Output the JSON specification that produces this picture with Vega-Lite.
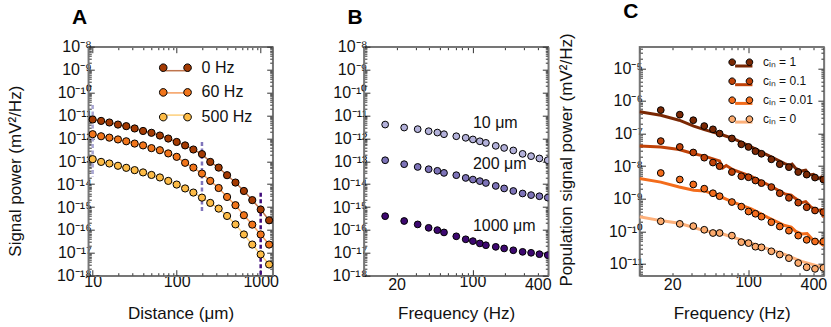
{
  "$schema": "https://vega.github.io/schema/vega-lite/v6.json",
  "background": "white",
  "autosize": {"type": "none"},
  "padding": {"left": 88.3, "top": 46.7, "right": 742.7, "bottom": 280.3},
  "spacing": 90.6,
  "bounds": "flush",
  "config": {
    "view": {"stroke": "#777", "strokeWidth": 1.5},
    "axis": {"domain": true, "domainColor": "#777", "domainWidth": 1.5, "grid": false, "tickColor": "#333", "tickWidth": 1, "labelFont": "Liberation Sans", "labelFontSize": 16, "labelColor": "#111", "titleFont": "Liberation Sans", "titleFontSize": 17, "titleFontWeight": "normal", "titleColor": "#111", "labelOverlap": false, "labelFlush": false, "labelBound": false},
    "legend": {"labelFont": "Liberation Sans", "labelColor": "#111"}
  },
  "resolve": {"scale": {"fill": "independent", "stroke": "independent", "color": "independent"}, "legend": {"fill": "independent", "stroke": "independent", "color": "independent"}},
  "datasets": {
    "powerDistance": [
      {"distance": 10, "power": 6.61e-12, "series": "0 Hz"}, {"distance": 12.6, "power": 5.75e-12, "series": "0 Hz"}, {"distance": 15.8, "power": 4.90e-12, "series": "0 Hz"}, {"distance": 20, "power": 3.98e-12, "series": "0 Hz"}, {"distance": 25.1, "power": 3.39e-12, "series": "0 Hz"}, {"distance": 31.6, "power": 2.69e-12, "series": "0 Hz"}, {"distance": 39.8, "power": 2.09e-12, "series": "0 Hz"}, {"distance": 50.1, "power": 1.74e-12, "series": "0 Hz"}, {"distance": 63.1, "power": 1.32e-12, "series": "0 Hz"}, {"distance": 79.4, "power": 9.77e-13, "series": "0 Hz"}, {"distance": 100, "power": 6.92e-13, "series": "0 Hz"}, {"distance": 126, "power": 4.90e-13, "series": "0 Hz"}, {"distance": 158, "power": 3.24e-13, "series": "0 Hz"}, {"distance": 200, "power": 2.04e-13, "series": "0 Hz"}, {"distance": 251, "power": 9.33e-14, "series": "0 Hz"}, {"distance": 316, "power": 5.25e-14, "series": "0 Hz"}, {"distance": 398, "power": 2.45e-14, "series": "0 Hz"}, {"distance": 501, "power": 1.17e-14, "series": "0 Hz"}, {"distance": 631, "power": 5.01e-15, "series": "0 Hz"}, {"distance": 794, "power": 2.00e-15, "series": "0 Hz"}, {"distance": 1000, "power": 7.76e-16, "series": "0 Hz"}, {"distance": 1259, "power": 2.63e-16, "series": "0 Hz"},
      {"distance": 10, "power": 1.51e-12, "series": "60 Hz"}, {"distance": 12.6, "power": 1.23e-12, "series": "60 Hz"}, {"distance": 15.8, "power": 1.07e-12, "series": "60 Hz"}, {"distance": 20, "power": 8.91e-13, "series": "60 Hz"}, {"distance": 25.1, "power": 7.41e-13, "series": "60 Hz"}, {"distance": 31.6, "power": 5.89e-13, "series": "60 Hz"}, {"distance": 39.8, "power": 4.90e-13, "series": "60 Hz"}, {"distance": 50.1, "power": 3.72e-13, "series": "60 Hz"}, {"distance": 63.1, "power": 3.02e-13, "series": "60 Hz"}, {"distance": 79.4, "power": 2.19e-13, "series": "60 Hz"}, {"distance": 100, "power": 1.55e-13, "series": "60 Hz"}, {"distance": 126, "power": 8.51e-14, "series": "60 Hz"}, {"distance": 158, "power": 5.25e-14, "series": "60 Hz"}, {"distance": 200, "power": 2.88e-14, "series": "60 Hz"}, {"distance": 251, "power": 1.38e-14, "series": "60 Hz"}, {"distance": 316, "power": 6.76e-15, "series": "60 Hz"}, {"distance": 398, "power": 2.75e-15, "series": "60 Hz"}, {"distance": 501, "power": 1.20e-15, "series": "60 Hz"}, {"distance": 631, "power": 4.37e-16, "series": "60 Hz"}, {"distance": 794, "power": 1.70e-16, "series": "60 Hz"}, {"distance": 1000, "power": 6.31e-17, "series": "60 Hz"}, {"distance": 1259, "power": 2.29e-17, "series": "60 Hz"},
      {"distance": 10, "power": 1.23e-13, "series": "500 Hz"}, {"distance": 12.6, "power": 9.33e-14, "series": "500 Hz"}, {"distance": 15.8, "power": 7.94e-14, "series": "500 Hz"}, {"distance": 20, "power": 6.31e-14, "series": "500 Hz"}, {"distance": 25.1, "power": 5.13e-14, "series": "500 Hz"}, {"distance": 31.6, "power": 4.07e-14, "series": "500 Hz"}, {"distance": 39.8, "power": 3.24e-14, "series": "500 Hz"}, {"distance": 50.1, "power": 2.51e-14, "series": "500 Hz"}, {"distance": 63.1, "power": 1.95e-14, "series": "500 Hz"}, {"distance": 79.4, "power": 1.38e-14, "series": "500 Hz"}, {"distance": 100, "power": 9.55e-15, "series": "500 Hz"}, {"distance": 126, "power": 6.46e-15, "series": "500 Hz"}, {"distance": 158, "power": 4.27e-15, "series": "500 Hz"}, {"distance": 200, "power": 2.57e-15, "series": "500 Hz"}, {"distance": 251, "power": 1.51e-15, "series": "500 Hz"}, {"distance": 316, "power": 8.51e-16, "series": "500 Hz"}, {"distance": 398, "power": 4.07e-16, "series": "500 Hz"}, {"distance": 501, "power": 1.74e-16, "series": "500 Hz"}, {"distance": 631, "power": 6.31e-17, "series": "500 Hz"}, {"distance": 794, "power": 2.29e-17, "series": "500 Hz"}, {"distance": 1000, "power": 8.51e-18, "series": "500 Hz"}, {"distance": 1259, "power": 3.09e-18, "series": "500 Hz"}
    ],
    "distRules": [
      {"distance": 10, "upper": 2.82e-11, "lower": 2.04e-14, "site": "10 μm"},
      {"distance": 200, "upper": 6.92e-13, "lower": 5.25e-16, "site": "200 μm"},
      {"distance": 1000, "upper": 4.17e-15, "lower": 1e-18, "site": "1000 μm"}
    ],
    "powerFreq": [
      {"freq": 15.7, "power": 3.98e-12, "site": "10 μm"}, {"freq": 23.5, "power": 2.95e-12, "site": "10 μm"}, {"freq": 31.3, "power": 2.51e-12, "site": "10 μm"}, {"freq": 39.5, "power": 2.04e-12, "site": "10 μm"}, {"freq": 47.5, "power": 1.78e-12, "site": "10 μm"}, {"freq": 54.7, "power": 1.51e-12, "site": "10 μm"}, {"freq": 71, "power": 1.23e-12, "site": "10 μm"}, {"freq": 86.7, "power": 1.05e-12, "site": "10 μm"}, {"freq": 101, "power": 8.91e-13, "site": "10 μm"}, {"freq": 117, "power": 7.41e-13, "site": "10 μm"}, {"freq": 133, "power": 6.31e-13, "site": "10 μm"}, {"freq": 164, "power": 4.68e-13, "site": "10 μm"}, {"freq": 196, "power": 3.80e-13, "site": "10 μm"}, {"freq": 238, "power": 2.95e-13, "site": "10 μm"}, {"freq": 290, "power": 2.09e-13, "site": "10 μm"}, {"freq": 347, "power": 1.66e-13, "site": "10 μm"}, {"freq": 414, "power": 1.32e-13, "site": "10 μm"}, {"freq": 494, "power": 1.10e-13, "site": "10 μm"},
      {"freq": 15.7, "power": 1.10e-13, "site": "200 μm"}, {"freq": 23.5, "power": 7.41e-14, "site": "200 μm"}, {"freq": 31.3, "power": 5.62e-14, "site": "200 μm"}, {"freq": 39.5, "power": 4.47e-14, "site": "200 μm"}, {"freq": 47.5, "power": 3.80e-14, "site": "200 μm"}, {"freq": 54.7, "power": 3.09e-14, "site": "200 μm"}, {"freq": 71, "power": 2.45e-14, "site": "200 μm"}, {"freq": 86.7, "power": 1.86e-14, "site": "200 μm"}, {"freq": 101, "power": 1.58e-14, "site": "200 μm"}, {"freq": 117, "power": 1.35e-14, "site": "200 μm"}, {"freq": 133, "power": 1.12e-14, "site": "200 μm"}, {"freq": 164, "power": 8.32e-15, "site": "200 μm"}, {"freq": 196, "power": 6.46e-15, "site": "200 μm"}, {"freq": 238, "power": 5.01e-15, "site": "200 μm"}, {"freq": 290, "power": 3.89e-15, "site": "200 μm"}, {"freq": 347, "power": 3.31e-15, "site": "200 μm"}, {"freq": 414, "power": 2.95e-15, "site": "200 μm"}, {"freq": 494, "power": 2.57e-15, "site": "200 μm"},
      {"freq": 15.7, "power": 3.98e-16, "site": "1000 μm"}, {"freq": 23.5, "power": 2.45e-16, "site": "1000 μm"}, {"freq": 31.3, "power": 1.74e-16, "site": "1000 μm"}, {"freq": 39.5, "power": 1.23e-16, "site": "1000 μm"}, {"freq": 47.5, "power": 9.77e-17, "site": "1000 μm"}, {"freq": 54.7, "power": 7.76e-17, "site": "1000 μm"}, {"freq": 71, "power": 5.25e-17, "site": "1000 μm"}, {"freq": 86.7, "power": 3.89e-17, "site": "1000 μm"}, {"freq": 101, "power": 3.24e-17, "site": "1000 μm"}, {"freq": 117, "power": 2.57e-17, "site": "1000 μm"}, {"freq": 133, "power": 2.14e-17, "site": "1000 μm"}, {"freq": 164, "power": 1.82e-17, "site": "1000 μm"}, {"freq": 196, "power": 1.55e-17, "site": "1000 μm"}, {"freq": 238, "power": 1.29e-17, "site": "1000 μm"}, {"freq": 290, "power": 1.10e-17, "site": "1000 μm"}, {"freq": 347, "power": 1.00e-17, "site": "1000 μm"}, {"freq": 414, "power": 8.71e-18, "site": "1000 μm"}, {"freq": 494, "power": 7.94e-18, "site": "1000 μm"}
    ],
    "freqLabels": [
      {"freq": 101, "power": 4.68e-12, "label": "10 μm"},
      {"freq": 101, "power": 7.41e-14, "label": "200 μm"},
      {"freq": 101, "power": 1.51e-16, "label": "1000 μm"}
    ],
    "popPoints": [
      {"freq": 15.7, "power": 5.25e-7, "c": "1"}, {"freq": 23.5, "power": 3.80e-7, "c": "1"}, {"freq": 31.3, "power": 2.57e-7, "c": "1"}, {"freq": 39.5, "power": 1.70e-7, "c": "1"}, {"freq": 47.5, "power": 1.35e-7, "c": "1"}, {"freq": 54.7, "power": 1.00e-7, "c": "1"}, {"freq": 71, "power": 7.08e-8, "c": "1"}, {"freq": 86.7, "power": 4.68e-8, "c": "1"}, {"freq": 101, "power": 3.89e-8, "c": "1"}, {"freq": 117, "power": 2.88e-8, "c": "1"}, {"freq": 133, "power": 2.40e-8, "c": "1"}, {"freq": 164, "power": 1.62e-8, "c": "1"}, {"freq": 196, "power": 1.15e-8, "c": "1"}, {"freq": 238, "power": 9.33e-9, "c": "1"}, {"freq": 290, "power": 6.61e-9, "c": "1"}, {"freq": 347, "power": 5.50e-9, "c": "1"}, {"freq": 414, "power": 4.47e-9, "c": "1"}, {"freq": 494, "power": 3.89e-9, "c": "1"},
      {"freq": 15.7, "power": 5.89e-8, "c": "0.1"}, {"freq": 23.5, "power": 3.89e-8, "c": "0.1"}, {"freq": 31.3, "power": 2.63e-8, "c": "0.1"}, {"freq": 39.5, "power": 1.82e-8, "c": "0.1"}, {"freq": 47.5, "power": 1.29e-8, "c": "0.1"}, {"freq": 54.7, "power": 1.00e-8, "c": "0.1"}, {"freq": 71, "power": 6.61e-9, "c": "0.1"}, {"freq": 86.7, "power": 4.90e-9, "c": "0.1"}, {"freq": 101, "power": 4.57e-9, "c": "0.1"}, {"freq": 117, "power": 3.63e-9, "c": "0.1"}, {"freq": 133, "power": 3.02e-9, "c": "0.1"}, {"freq": 164, "power": 2.29e-9, "c": "0.1"}, {"freq": 196, "power": 1.48e-9, "c": "0.1"}, {"freq": 238, "power": 1.07e-9, "c": "0.1"}, {"freq": 290, "power": 7.59e-10, "c": "0.1"}, {"freq": 347, "power": 5.50e-10, "c": "0.1"}, {"freq": 414, "power": 4.37e-10, "c": "0.1"}, {"freq": 494, "power": 3.89e-10, "c": "0.1"},
      {"freq": 15.7, "power": 6.17e-9, "c": "0.01"}, {"freq": 23.5, "power": 3.89e-9, "c": "0.01"}, {"freq": 31.3, "power": 2.75e-9, "c": "0.01"}, {"freq": 39.5, "power": 2.04e-9, "c": "0.01"}, {"freq": 47.5, "power": 1.48e-9, "c": "0.01"}, {"freq": 54.7, "power": 1.20e-9, "c": "0.01"}, {"freq": 71, "power": 7.94e-10, "c": "0.01"}, {"freq": 86.7, "power": 5.75e-10, "c": "0.01"}, {"freq": 101, "power": 4.07e-10, "c": "0.01"}, {"freq": 117, "power": 3.47e-10, "c": "0.01"}, {"freq": 133, "power": 2.82e-10, "c": "0.01"}, {"freq": 164, "power": 1.91e-10, "c": "0.01"}, {"freq": 196, "power": 1.41e-10, "c": "0.01"}, {"freq": 238, "power": 1.05e-10, "c": "0.01"}, {"freq": 290, "power": 7.41e-11, "c": "0.01"}, {"freq": 347, "power": 5.50e-11, "c": "0.01"}, {"freq": 414, "power": 4.90e-11, "c": "0.01"}, {"freq": 494, "power": 4.90e-11, "c": "0.01"},
      {"freq": 15.7, "power": 2.04e-10, "c": "0"}, {"freq": 23.5, "power": 1.70e-10, "c": "0"}, {"freq": 31.3, "power": 1.45e-10, "c": "0"}, {"freq": 39.5, "power": 1.12e-10, "c": "0"}, {"freq": 47.5, "power": 8.91e-11, "c": "0"}, {"freq": 54.7, "power": 8.91e-11, "c": "0"}, {"freq": 71, "power": 7.41e-11, "c": "0"}, {"freq": 86.7, "power": 4.68e-11, "c": "0"}, {"freq": 101, "power": 4.37e-11, "c": "0"}, {"freq": 117, "power": 3.39e-11, "c": "0"}, {"freq": 133, "power": 3.24e-11, "c": "0"}, {"freq": 164, "power": 2.45e-11, "c": "0"}, {"freq": 196, "power": 1.95e-11, "c": "0"}, {"freq": 238, "power": 1.51e-11, "c": "0"}, {"freq": 290, "power": 1.07e-11, "c": "0"}, {"freq": 347, "power": 7.94e-12, "c": "0"}, {"freq": 414, "power": 7.08e-12, "c": "0"}, {"freq": 494, "power": 7.59e-12, "c": "0"}
    ],
    "popLines": [
      {"freq": 10, "power": 4.68e-7, "c": "1"}, {"freq": 15.7, "power": 3.63e-7, "c": "1"}, {"freq": 23.2, "power": 2.57e-7, "c": "1"}, {"freq": 31.6, "power": 1.70e-7, "c": "1"}, {"freq": 39.6, "power": 1.32e-7, "c": "1"}, {"freq": 55.7, "power": 9.55e-8, "c": "1"}, {"freq": 72.6, "power": 7.08e-8, "c": "1"}, {"freq": 107, "power": 3.89e-8, "c": "1"}, {"freq": 153, "power": 2.14e-8, "c": "1"}, {"freq": 218, "power": 1.20e-8, "c": "1"}, {"freq": 240, "power": 1.05e-8, "c": "1"}, {"freq": 255, "power": 1.15e-8, "c": "1"}, {"freq": 275, "power": 8.5e-9, "c": "1"}, {"freq": 311, "power": 7.08e-9, "c": "1"}, {"freq": 340, "power": 7.6e-9, "c": "1"}, {"freq": 370, "power": 5.4e-9, "c": "1"}, {"freq": 400, "power": 5.6e-9, "c": "1"}, {"freq": 445, "power": 4.17e-9, "c": "1"}, {"freq": 470, "power": 4.6e-9, "c": "1"}, {"freq": 500, "power": 3.24e-9, "c": "1"},
      {"freq": 10, "power": 4.17e-8, "c": "0.1"}, {"freq": 15.7, "power": 3.89e-8, "c": "0.1"}, {"freq": 23.2, "power": 3.24e-8, "c": "0.1"}, {"freq": 31.6, "power": 2.40e-8, "c": "0.1"}, {"freq": 39.6, "power": 2.04e-8, "c": "0.1"}, {"freq": 54.6, "power": 1.45e-8, "c": "0.1"}, {"freq": 58.7, "power": 8.91e-9, "c": "0.1"}, {"freq": 63, "power": 1.05e-8, "c": "0.1"}, {"freq": 72.6, "power": 7.76e-9, "c": "0.1"}, {"freq": 107, "power": 4.90e-9, "c": "0.1"}, {"freq": 153, "power": 2.69e-9, "c": "0.1"}, {"freq": 218, "power": 1.41e-9, "c": "0.1"}, {"freq": 250, "power": 1.3e-9, "c": "0.1"}, {"freq": 270, "power": 1.05e-9, "c": "0.1"}, {"freq": 311, "power": 7.59e-10, "c": "0.1"}, {"freq": 340, "power": 8.2e-10, "c": "0.1"}, {"freq": 380, "power": 5.6e-10, "c": "0.1"}, {"freq": 445, "power": 4.37e-10, "c": "0.1"}, {"freq": 470, "power": 4.6e-10, "c": "0.1"}, {"freq": 500, "power": 2.69e-10, "c": "0.1"},
      {"freq": 10, "power": 4.17e-9, "c": "0.01"}, {"freq": 15.7, "power": 3.24e-9, "c": "0.01"}, {"freq": 23.2, "power": 2.29e-9, "c": "0.01"}, {"freq": 31.6, "power": 1.82e-9, "c": "0.01"}, {"freq": 39.6, "power": 1.74e-9, "c": "0.01"}, {"freq": 52.7, "power": 1.26e-9, "c": "0.01"}, {"freq": 72.6, "power": 7.94e-10, "c": "0.01"}, {"freq": 107, "power": 4.90e-10, "c": "0.01"}, {"freq": 153, "power": 2.63e-10, "c": "0.01"}, {"freq": 218, "power": 1.51e-10, "c": "0.01"}, {"freq": 250, "power": 1.35e-10, "c": "0.01"}, {"freq": 275, "power": 1.0e-10, "c": "0.01"}, {"freq": 311, "power": 8.32e-11, "c": "0.01"}, {"freq": 350, "power": 8.6e-11, "c": "0.01"}, {"freq": 390, "power": 5.8e-11, "c": "0.01"}, {"freq": 445, "power": 4.90e-11, "c": "0.01"}, {"freq": 470, "power": 4.2e-11, "c": "0.01"}, {"freq": 500, "power": 3.63e-11, "c": "0.01"},
      {"freq": 10, "power": 2.82e-10, "c": "0"}, {"freq": 15.7, "power": 2.14e-10, "c": "0"}, {"freq": 23.2, "power": 1.78e-10, "c": "0"}, {"freq": 31.6, "power": 1.32e-10, "c": "0"}, {"freq": 39.6, "power": 1.05e-10, "c": "0"}, {"freq": 55.7, "power": 8.71e-11, "c": "0"}, {"freq": 72.6, "power": 6.61e-11, "c": "0"}, {"freq": 107, "power": 4.37e-11, "c": "0"}, {"freq": 153, "power": 2.88e-11, "c": "0"}, {"freq": 218, "power": 1.95e-11, "c": "0"}, {"freq": 311, "power": 1.20e-11, "c": "0"}, {"freq": 445, "power": 8.51e-12, "c": "0"}, {"freq": 500, "power": 7.94e-12, "c": "0"}
    ]
  },
  "hconcat": [
    {
      "width": 184.4, "height": 229,
      "title": {"text": "A", "anchor": "start", "frame": "group", "dx": -16.3, "fontSize": 21, "font": "Liberation Sans", "fontWeight": "bold", "baseline": "alphabetic", "offset": -6, "color": "#000"},
      "layer": [
        {
          "data": {"name": "distRules"},
          "mark": {"type": "rule", "strokeWidth": 2.5, "strokeDash": [4, 2.5], "clip": true},
          "encoding": {
            "x": {"field": "distance", "type": "quantitative", "scale": {"type": "log", "domain": [8.87, 1390], "nice": false},
              "axis": {"title": "Distance (μm)", "tickCount": 12, "labelExpr": "datum.value == 10 || datum.value == 100 || datum.value == 1000 ? toString(datum.value) : ''", "tickSize": {"condition": {"test": "abs(log(datum.value)/LN10-round(log(datum.value)/LN10))<0.01", "value": -6}, "value": -3}, "labelPadding": 12, "labelBaseline": "middle", "titleY": 38, "titleBaseline": "middle"}},
            "y": {"field": "upper", "type": "quantitative", "scale": {"type": "log", "domain": [1e-18, 1e-8], "nice": false},
              "axis": {"title": "Signal power (mV²/Hz)", "tickCount": 12, "labelExpr": "abs(log(datum.value)/LN10-round(log(datum.value)/LN10))<0.01 ? '10'+replace(replace(replace(replace(replace(replace(replace(replace(replace(replace(replace(toString(round(log(datum.value)/LN10)),'-','⁻'),regexp('0','g'),'⁰'),regexp('1','g'),'¹'),regexp('2','g'),'²'),regexp('3','g'),'³'),regexp('4','g'),'⁴'),regexp('5','g'),'⁵'),regexp('6','g'),'⁶'),regexp('7','g'),'⁷'),regexp('8','g'),'⁸'),regexp('9','g'),'⁹') : ''", "tickSize": {"condition": {"test": "abs(log(datum.value)/LN10-round(log(datum.value)/LN10))<0.01", "value": -6}, "value": -3}, "labelPadding": 3, "titleX": -73.3, "titleY": 124, "titleBaseline": "middle"}},
            "y2": {"field": "lower"},
            "color": {"field": "site", "type": "nominal", "scale": {"domain": ["10 μm", "200 μm", "1000 μm"], "range": ["#a9a6d3", "#8075bb", "#3f0a7a"]}, "legend": null}
          }
        },
        {
          "data": {"name": "powerDistance"},
          "mark": {"type": "line", "strokeWidth": 1.5, "opacity": 0.7},
          "encoding": {
            "x": {"field": "distance", "type": "quantitative", "axis": {"orient": "top", "title": null, "labels": false, "tickCount": 12, "tickSize": {"condition": {"test": "abs(log(datum.value)/LN10-round(log(datum.value)/LN10))<0.01", "value": -6}, "value": -3}}},
            "y": {"field": "power", "type": "quantitative", "axis": {"orient": "right", "title": null, "labels": false, "tickCount": 12, "tickSize": {"condition": {"test": "abs(log(datum.value)/LN10-round(log(datum.value)/LN10))<0.01", "value": -6}, "value": -3}}},
            "stroke": {"field": "series", "type": "nominal", "scale": {"domain": ["0 Hz", "60 Hz", "500 Hz"], "range": ["#a43a02", "#f1751b", "#fdbb45"]},
              "legend": {"orient": "none", "legendX": 76.1, "legendY": 11, "title": null, "symbolType": "stroke", "symbolSize": 576, "symbolStrokeWidth": 1.5, "symbolOpacity": 0.7, "labelFontSize": 16, "labelExpr": "''", "rowPadding": 1.2, "padding": 0, "zindex": 1}}
          }
        },
        {
          "data": {"name": "powerDistance"},
          "mark": {"type": "circle", "size": 52, "stroke": "#000", "strokeWidth": 1, "opacity": 1},
          "encoding": {
            "x": {"field": "distance", "type": "quantitative", "axis": null},
            "y": {"field": "power", "type": "quantitative", "axis": null},
            "fill": {"field": "series", "type": "nominal", "sort": ["0 Hz", "60 Hz", "500 Hz"], "scale": {"range": ["#a43a02", "#f1751b", "#fdbb45"]},
              "legend": {"orient": "none", "legendX": 79.1, "legendY": 13, "title": null, "symbolType": "M-2.09,0A0.95,0.95,0,1,1,-3.99,0A0.95,0.95,0,1,1,-2.09,0Z M3.99,0A0.95,0.95,0,1,1,2.09,0A0.95,0.95,0,1,1,3.99,0Z", "symbolSize": 64, "symbolStrokeColor": "#000", "symbolStrokeWidth": 1, "symbolOpacity": 1, "labelFontSize": 16, "labelOffset": 18.2, "rowPadding": 8.7, "padding": 0, "zindex": 2}}
          }
        }
      ],
      "resolve": {"axis": {"x": "independent", "y": "independent"}}
    },
    {
      "width": 184.4, "height": 229,
      "title": {"text": "B", "anchor": "start", "frame": "group", "dx": -16.3, "fontSize": 21, "font": "Liberation Sans", "fontWeight": "bold", "baseline": "alphabetic", "offset": -6, "color": "#000"},
      "layer": [
        {
          "data": {"name": "powerFreq"},
          "mark": {"type": "circle", "size": 46, "stroke": "#000", "strokeWidth": 1, "opacity": 1, "clip": true},
          "encoding": {
            "x": {"field": "freq", "type": "quantitative", "scale": {"type": "log", "domain": [10, 500], "nice": false},
              "axis": {"title": "Frequency (Hz)", "tickCount": 12, "labelExpr": "datum.value == 20 || datum.value == 100 || datum.value == 400 ? toString(datum.value) : ''", "tickSize": {"condition": {"test": "abs(log(datum.value)/LN10-round(log(datum.value)/LN10))<0.01", "value": -6}, "value": -3}, "labelPadding": 12, "labelBaseline": "middle", "titleY": 38, "titleBaseline": "middle"}},
            "y": {"field": "power", "type": "quantitative", "scale": {"type": "log", "domain": [1e-18, 1e-8], "nice": false},
              "axis": {"title": null, "tickCount": 12, "labelExpr": "abs(log(datum.value)/LN10-round(log(datum.value)/LN10))<0.01 ? '10'+replace(replace(replace(replace(replace(replace(replace(replace(replace(replace(replace(toString(round(log(datum.value)/LN10)),'-','⁻'),regexp('0','g'),'⁰'),regexp('1','g'),'¹'),regexp('2','g'),'²'),regexp('3','g'),'³'),regexp('4','g'),'⁴'),regexp('5','g'),'⁵'),regexp('6','g'),'⁶'),regexp('7','g'),'⁷'),regexp('8','g'),'⁸'),regexp('9','g'),'⁹') : ''", "tickSize": {"condition": {"test": "abs(log(datum.value)/LN10-round(log(datum.value)/LN10))<0.01", "value": -6}, "value": -3}, "labelPadding": 3}},
            "fill": {"field": "site", "type": "nominal", "scale": {"domain": ["10 μm", "200 μm", "1000 μm"], "range": ["#b3b1da", "#7d73b8", "#3d0870"]}, "legend": null}
          }
        },
        {
          "data": {"name": "freqLabels"},
          "mark": {"type": "text", "align": "left", "baseline": "middle", "fontSize": 16, "font": "Liberation Sans", "color": "#111"},
          "encoding": {
            "x": {"field": "freq", "type": "quantitative", "axis": {"orient": "top", "title": null, "labels": false, "tickCount": 12, "tickSize": {"condition": {"test": "abs(log(datum.value)/LN10-round(log(datum.value)/LN10))<0.01", "value": -6}, "value": -3}}},
            "y": {"field": "power", "type": "quantitative", "axis": {"orient": "right", "title": null, "labels": false, "tickCount": 12, "tickSize": {"condition": {"test": "abs(log(datum.value)/LN10-round(log(datum.value)/LN10))<0.01", "value": -6}, "value": -3}}},
            "text": {"field": "label", "type": "nominal"}
          }
        }
      ],
      "resolve": {"axis": {"x": "independent", "y": "independent"}}
    },
    {
      "width": 184.4, "height": 229,
      "title": {"text": "C", "anchor": "start", "frame": "group", "dx": -16.3, "fontSize": 21, "font": "Liberation Sans", "fontWeight": "bold", "baseline": "alphabetic", "offset": -6, "color": "#000"},
      "layer": [
        {
          "data": {"name": "popLines"},
          "mark": {"type": "line", "strokeWidth": 3, "clip": true},
          "encoding": {
            "x": {"field": "freq", "type": "quantitative", "scale": {"type": "log", "domain": [10, 500], "nice": false},
              "axis": {"title": "Frequency (Hz)", "tickCount": 12, "labelExpr": "datum.value == 20 || datum.value == 100 || datum.value == 400 ? toString(datum.value) : ''", "tickSize": {"condition": {"test": "abs(log(datum.value)/LN10-round(log(datum.value)/LN10))<0.01", "value": -6}, "value": -3}, "labelPadding": 12, "labelBaseline": "middle", "titleY": 38, "titleBaseline": "middle"}},
            "y": {"field": "power", "type": "quantitative", "scale": {"type": "log", "domain": [4.37e-12, 4.62e-5], "nice": false},
              "axis": {"title": "Population signal power (mV²/Hz)", "tickCount": 12, "labelExpr": "abs(log(datum.value)/LN10-round(log(datum.value)/LN10))<0.01 ? '10'+replace(replace(replace(replace(replace(replace(replace(replace(replace(replace(replace(toString(round(log(datum.value)/LN10)),'-','⁻'),regexp('0','g'),'⁰'),regexp('1','g'),'¹'),regexp('2','g'),'²'),regexp('3','g'),'³'),regexp('4','g'),'⁴'),regexp('5','g'),'⁵'),regexp('6','g'),'⁶'),regexp('7','g'),'⁷'),regexp('8','g'),'⁸'),regexp('9','g'),'⁹') : ''", "tickSize": {"condition": {"test": "abs(log(datum.value)/LN10-round(log(datum.value)/LN10))<0.01", "value": -6}, "value": -3}, "labelPadding": 3, "titleX": -73.3, "titleY": 112.8, "titleBaseline": "middle"}},
            "stroke": {"field": "c", "type": "nominal", "scale": {"domain": ["1", "0.1", "0.01", "0"], "range": ["#7a2804", "#c04208", "#f36c1b", "#fdb07a"]},
              "legend": {"orient": "none", "legendX": 93.75, "legendY": 8.8, "title": null, "symbolType": "stroke", "symbolSize": 300, "symbolStrokeWidth": 3, "labelFontSize": 12, "labelExpr": "''", "rowPadding": 1.7, "padding": 0, "zindex": 1}}
          }
        },
        {
          "data": {"name": "popPoints"},
          "mark": {"type": "circle", "size": 46, "stroke": "#000", "strokeWidth": 1, "opacity": 1, "clip": true},
          "encoding": {
            "x": {"field": "freq", "type": "quantitative", "axis": {"orient": "top", "title": null, "labels": false, "tickCount": 12, "tickSize": {"condition": {"test": "abs(log(datum.value)/LN10-round(log(datum.value)/LN10))<0.01", "value": -6}, "value": -3}}},
            "y": {"field": "power", "type": "quantitative", "axis": {"orient": "right", "title": null, "labels": false, "tickCount": 12, "tickSize": {"condition": {"test": "abs(log(datum.value)/LN10-round(log(datum.value)/LN10))<0.01", "value": -6}, "value": -3}}},
            "fill": {"field": "c", "type": "nominal", "sort": ["1", "0.1", "0.01", "0"], "scale": {"range": ["#7a2804", "#c04208", "#f36c1b", "#fcaa6c"]},
              "legend": {"orient": "none", "legendX": 95.3, "legendY": 9.5, "title": null, "symbolType": "M-1.53,0A0.94,0.94,0,1,1,-3.41,0A0.94,0.94,0,1,1,-1.53,0Z M3.41,0A0.94,0.94,0,1,1,1.53,0A0.94,0.94,0,1,1,3.41,0Z", "symbolSize": 49, "symbolStrokeColor": "#000", "symbolStrokeWidth": 1, "symbolOpacity": 1, "labelFontSize": 12, "labelOffset": 16.1, "labelExpr": "'cᵢₙ = ' + datum.label", "rowPadding": 7, "padding": 0, "zindex": 2}}
          }
        }
      ],
      "resolve": {"axis": {"x": "independent", "y": "independent"}}
    }
  ]
}
